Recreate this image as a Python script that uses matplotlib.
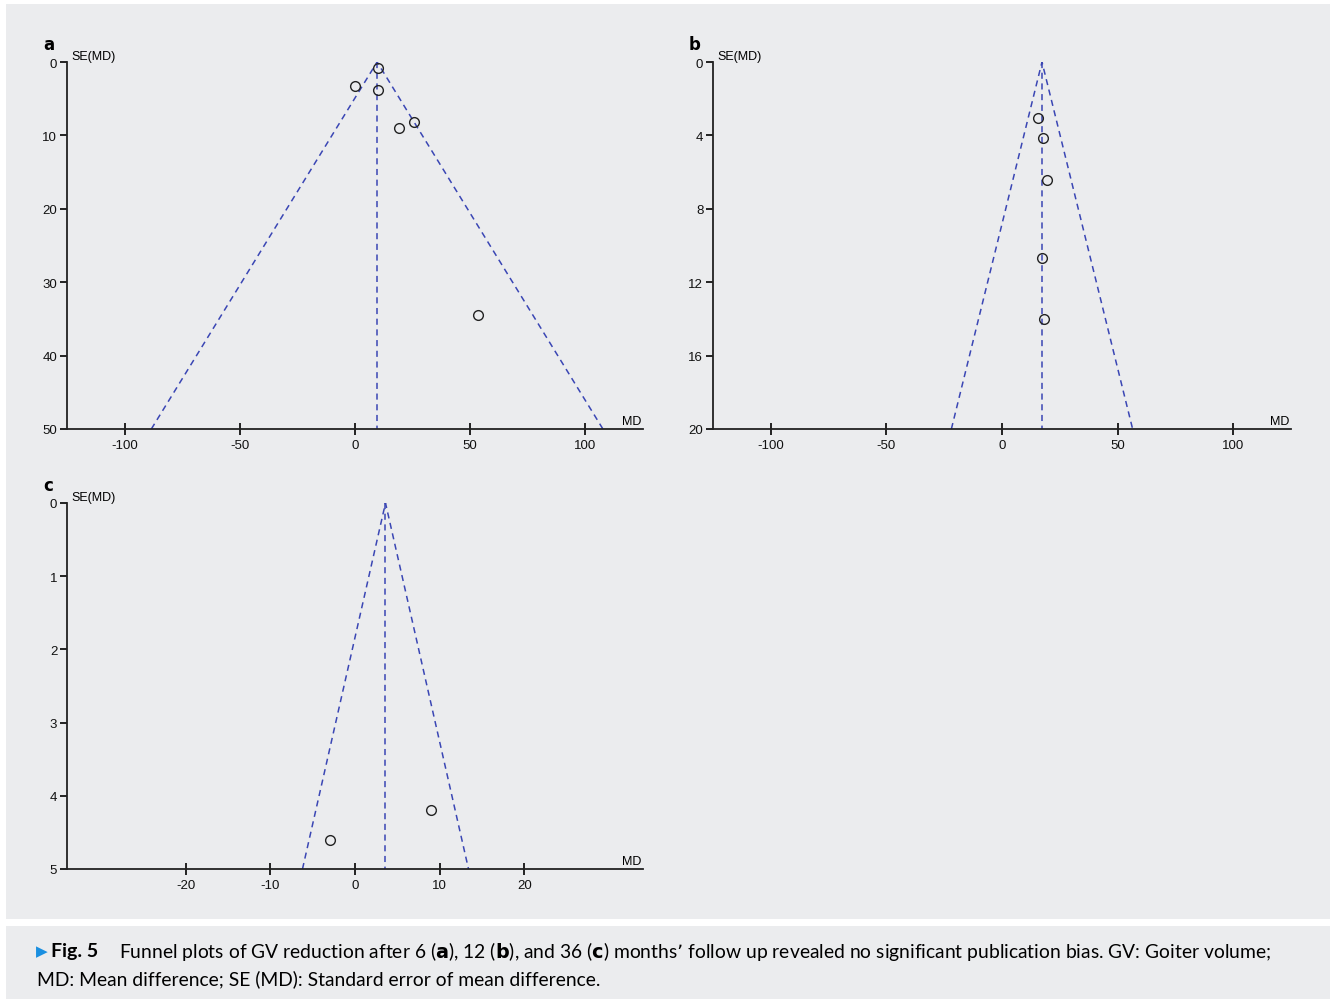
import matplotlib.pyplot as plt
from matplotlib.patches import Rectangle

plt.rcParams['axes.unicode_minus'] = False

# Daten aus den drei Funnel-Plots (MD, SE(MD))
md_a = [10, 0, 10, 19, 25.5, 53.2]
se_a = [0.8, 3.3, 3.8, 9.0, 8.2, 34.5]
pooled_a = 9.6

md_b = [15.6, 17.7, 19.5, 17.3, 18.2]
se_b = [3.05, 4.14, 6.43, 10.7, 14.0]
pooled_b = 17.3

md_c = [-3.0, 9.0]
se_c = [4.6, 4.19]
pooled_c = 3.6

xticks_ab = [-100, -50, 0, 50, 100]
xticks_c = [-20, -10, 0, 10, 20]
yticks_a = [0, 10, 20, 30, 40, 50]
yticks_b = [0, 4, 8, 12, 16, 20]
yticks_c = [0, 1, 2, 3, 4, 5]

bg = '#ebecee'
blue = '#3a46b4'
tickfont = 'Liberation Sans'

fig = plt.figure(figsize=(13.35, 10.04), dpi=100)
fig.patch.set_facecolor('white')
# grauer Hintergrund fuer Plots und Bildunterschrift
fig.add_artist(Rectangle((6/1335, 1-920/1004), 1324/1335, 915/1004,
                         transform=fig.transFigure, facecolor=bg, edgecolor='none', zorder=0))
fig.add_artist(Rectangle((6/1335, 1-1000/1004), 1324/1335, 73/1004,
                         transform=fig.transFigure, facecolor=bg, edgecolor='none', zorder=0))


def funnel(rect, md, se, pooled, xlim, xticks, yticks, letter):
    ax = fig.add_axes(rect)
    ax.set_facecolor('none')
    semax = yticks[-1]
    # Trichter und Mittellinie
    ax.plot([pooled - 1.96*semax, pooled, pooled + 1.96*semax], [semax, 0, semax],
            color=blue, lw=1.1, ls=(0, (4, 3)))
    ax.plot([pooled, pooled], [0, semax], color=blue, lw=1.1, ls=(0, (4, 3)))
    ax.plot(md, se, 'o', mfc='none', mec='#222222', ms=7, mew=1)
    ax.set_xlim(xlim)
    ax.set_ylim(semax, 0)
    ax.set_xticks(xticks)
    ax.set_yticks(yticks)
    for s in ['top', 'right']:
        ax.spines[s].set_visible(False)
    for s in ['left', 'bottom']:
        ax.spines[s].set_linewidth(1.3)
        ax.spines[s].set_color('#222222')
    ax.tick_params(axis='y', direction='out', length=5, width=1.2, pad=2, labelsize=9.5)
    ax.tick_params(axis='x', direction='inout', length=8, width=1.2, pad=3, labelsize=9.5)
    for lab in ax.get_xticklabels() + ax.get_yticklabels():
        lab.set_family(tickfont)
        lab.set_color('#111111')
    ax.text(0.008, 1.0, 'SE(MD)', transform=ax.transAxes, ha='left', va='bottom',
            fontsize=9, family=tickfont)
    ax.text(0.997, 0.005, 'MD', transform=ax.transAxes, ha='right', va='bottom',
            fontsize=9, family=tickfont)
    ax.text(-0.042, 1.025, letter, transform=ax.transAxes, ha='left', va='bottom',
            fontsize=12, fontweight='bold', family='DejaVu Sans')
    return ax


funnel([67/1335, 1-430/1004, 576/1335, 367/1004], md_a, se_a, pooled_a,
       (-125, 125), xticks_ab, yticks_a, 'a')
funnel([713/1335, 1-430/1004, 578/1335, 367/1004], md_b, se_b, pooled_b,
       (-125, 125), xticks_ab, yticks_b, 'b')
funnel([67/1335, 1-870/1004, 576/1335, 366/1004], md_c, se_c, pooled_c,
       (-34, 34), xticks_c, yticks_c, 'c')

# Bildunterschrift
capfont = 'Lato'
fig.text(36/1335, 1-952/1004, '\u25b6', color='#1a8fe0', fontsize=11,
         family='DejaVu Sans', va='center', ha='left')
fig.text(51/1335, 1-952/1004, 'Fig. 5', fontsize=14, fontweight='bold',
         family=capfont, va='center', ha='left')
fig.text(119/1335, 1-952/1004,
         'Funnel plots of GV reduction after 6 ($\\mathbf{a}$), 12 ($\\mathbf{b}$), and 36 ($\\mathbf{c}$) '
         'months\u2019 follow up revealed no significant publication bias. GV: Goiter volume;',
         fontsize=13.9, family=capfont, va='center', ha='left')
fig.text(37/1335, 1-979/1004, 'MD: Mean difference; SE (MD): Standard error of mean difference.',
         fontsize=13.9, family=capfont, va='center', ha='left')

fig.savefig('out.png', dpi=100, facecolor=fig.get_facecolor())
